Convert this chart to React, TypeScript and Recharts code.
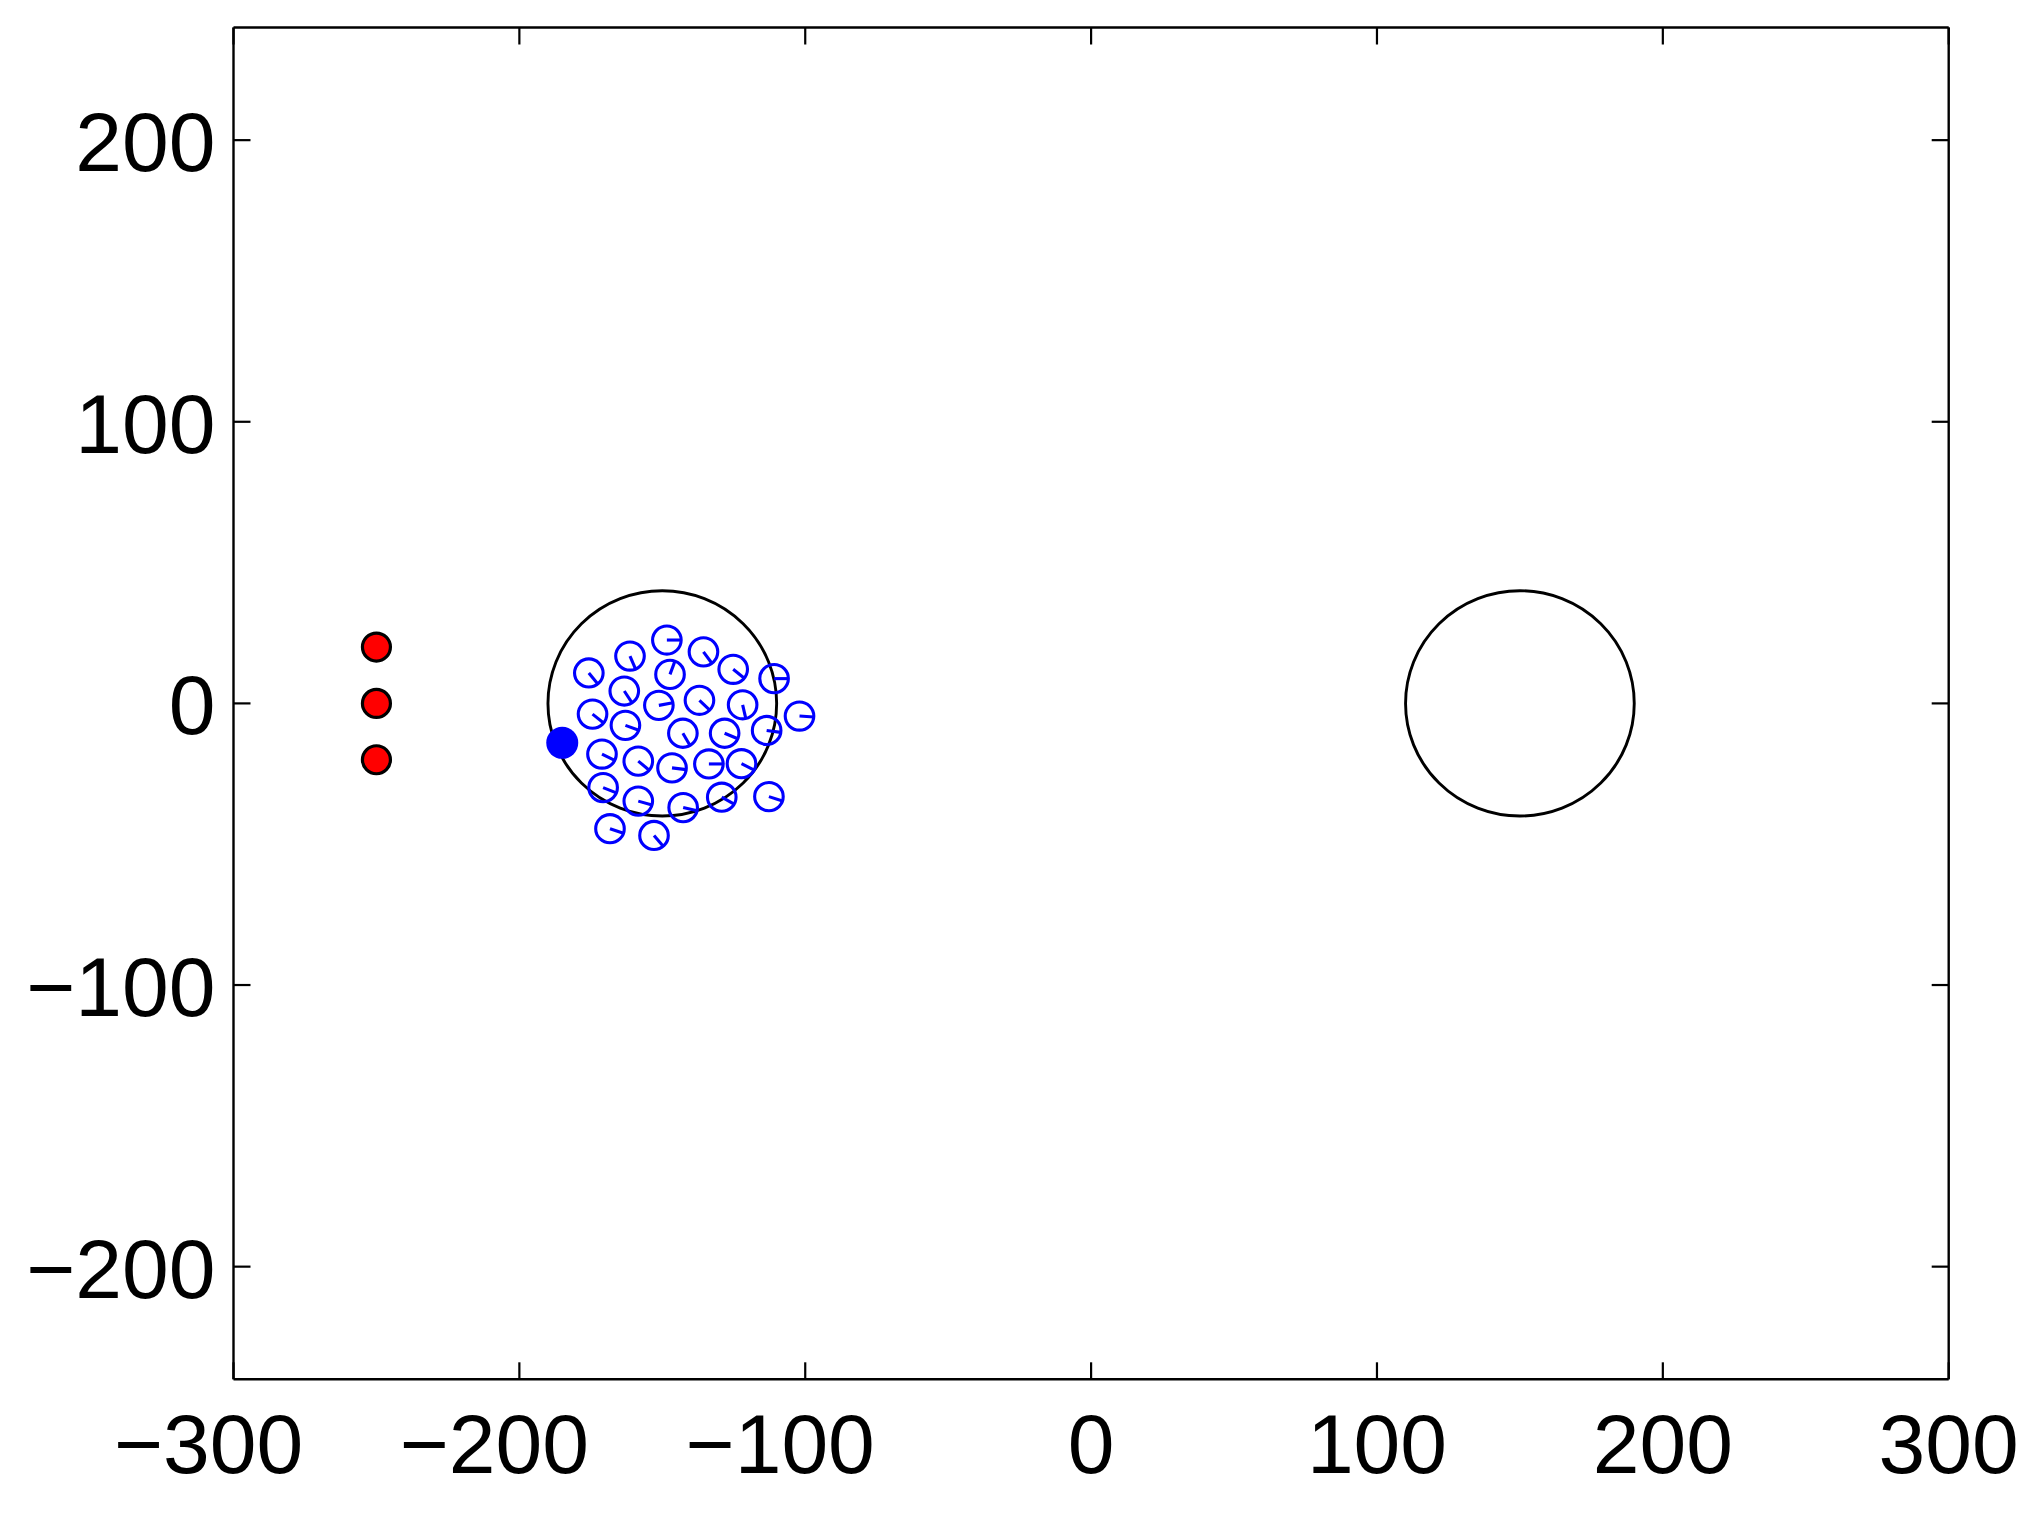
import React from "react";
import { ScatterChart, Scatter, XAxis, YAxis } from "recharts";

// axis ranges and ticks
const xTicks = [-300, -200, -100, 0, 100, 200, 300];
const yTicks = [-200, -100, 0, 100, 200];
const xDomain: [number, number] = [-300, 300];
const yDomain: [number, number] = [-240, 240];

// target regions (centre + radius in data units)
const zoneX = [-150, 150];
const zoneY = [0, 0];
const zoneR = [40, 40];

// red markers
const redX = [-250, -250, -250];
const redY = [20, 0, -20];

// blue agents: position and heading (degrees)
const agentX = [
  -148.4, -161.3, -135.6, -175.7, -147.3, -125.2, -110.9, -163.3, -151.2, -137.0,
  -121.9, -174.4, -162.9, -102.0, -142.8, -128.2, -113.5, -171.1, -158.4, -146.6,
  -133.7, -122.3, -170.7, -158.4, -142.7, -129.2, -112.7, -168.3, -152.9,
];
const agentY = [
  22.5, 16.8, 18.3, 10.8, 10.3, 12.1, 8.8, 4.4, -0.7, 1.1,
  -0.5, -3.8, -7.8, -4.5, -10.6, -10.6, -9.6, -18.0, -20.5, -22.9,
  -21.5, -21.4, -29.9, -34.7, -37.0, -33.3, -33.1, -44.5, -46.9,
];
const agentHeading = [
  0, -67, -54, -51, 70, -39, 0, -57, 11, -44,
  -77, -39, -20, -4, -60, -23, -8, -27, -40, -7,
  0, -27, -22, -16, -13, -30, -18, -19, -50,
];
const agentRadius = 5;

// leader
const leaderX = [-185];
const leaderY = [-14];

const W = 2044;
const H = 1517;
const PLOT_LEFT = 233.5;
const PLOT_RIGHT = 1948.7;
const PLOT_TOP = 27.5;
const PLOT_BOTTOM = 1379.3;
const SX = (PLOT_RIGHT - PLOT_LEFT) / (xDomain[1] - xDomain[0]);
const SY = (PLOT_BOTTOM - PLOT_TOP) / (yDomain[1] - yDomain[0]);

const TICK_LEN = 17;
const FONT = "'Liberation Sans', Arial, Helvetica, sans-serif";
const FONT_SIZE = 84;

const zones = zoneX.map((x, i) => ({ x, y: zoneY[i], r: zoneR[i] }));
const reds = redX.map((x, i) => ({ x, y: redY[i] }));
const agents = agentX.map((x, i) => ({ x, y: agentY[i], h: agentHeading[i] }));
const leader = leaderX.map((x, i) => ({ x, y: leaderY[i] }));

const fmt = (v: number) => (v < 0 ? `\u2212${Math.abs(v)}` : `${v}`);

function BottomTick({ x, y, payload }: any) {
  const v = payload.value;
  return (
    <g>
      <line x1={x} y1={y} x2={x} y2={y - TICK_LEN} stroke="#000" strokeWidth={2.2} />
      <text
        x={v < 0 ? x - 25 : x}
        y={y + 94}
        textAnchor="middle"
        fontFamily={FONT}
        fontSize={FONT_SIZE}
        fill="#000"
      >
        {fmt(v)}
      </text>
    </g>
  );
}

function LeftTick({ x, y, payload }: any) {
  return (
    <g>
      <line x1={x} y1={y} x2={x + TICK_LEN} y2={y} stroke="#000" strokeWidth={2.2} />
      <text
        x={x - 18}
        y={y + 31}
        textAnchor="end"
        fontFamily={FONT}
        fontSize={FONT_SIZE}
        fill="#000"
      >
        {fmt(payload.value)}
      </text>
    </g>
  );
}

function TopTick({ x, y }: any) {
  return <line x1={x} y1={y} x2={x} y2={y + TICK_LEN} stroke="#000" strokeWidth={2.2} />;
}

function RightTick({ x, y }: any) {
  return <line x1={x} y1={y} x2={x - TICK_LEN} y2={y} stroke="#000" strokeWidth={2.2} />;
}

function ZoneShape({ cx, cy, payload }: any) {
  return (
    <ellipse
      cx={cx}
      cy={cy}
      rx={payload.r * SX}
      ry={payload.r * SY}
      fill="none"
      stroke="#000"
      strokeWidth={2.9}
    />
  );
}

function RedShape({ cx, cy }: any) {
  return <circle cx={cx} cy={cy} r={14} fill="#ff0000" stroke="#000" strokeWidth={3.2} />;
}

function AgentShape({ cx, cy, payload }: any) {
  const rx = agentRadius * SX;
  const ry = agentRadius * SY;
  const a = (payload.h * Math.PI) / 180;
  return (
    <g>
      <ellipse cx={cx} cy={cy} rx={rx} ry={ry} fill="none" stroke="#0000ff" strokeWidth={3.1} />
      <line
        x1={cx}
        y1={cy}
        x2={cx + rx * Math.cos(a)}
        y2={cy - ry * Math.sin(a)}
        stroke="#0000ff"
        strokeWidth={3.1}
      />
    </g>
  );
}

function LeaderShape({ cx, cy }: any) {
  return <circle cx={cx} cy={cy} r={16} fill="#0000ff" />;
}

const axisLine = { stroke: "#000", strokeWidth: 2.4 };

export default function App() {
  return (
    <div style={{ position: "absolute", left: 0, top: 0, width: W, height: H, background: "#fff" }}>
      <ScatterChart
        width={W}
        height={H}
        margin={{ top: PLOT_TOP - 20, right: W - PLOT_RIGHT - 40, bottom: H - PLOT_BOTTOM - 100, left: PLOT_LEFT - 200 }}
      >
        <XAxis
          type="number"
          dataKey="x"
          domain={xDomain}
          ticks={xTicks}
          allowDataOverflow
          interval={0}
          height={100}
          tickSize={0}
          tickMargin={0}
          tickLine={false}
          axisLine={axisLine}
          tick={BottomTick}
        />
        <XAxis
          xAxisId="top"
          orientation="top"
          type="number"
          dataKey="x"
          domain={xDomain}
          ticks={xTicks}
          allowDataOverflow
          interval={0}
          height={20}
          tickSize={0}
          tickMargin={0}
          tickLine={false}
          axisLine={axisLine}
          tick={TopTick}
        />
        <YAxis
          type="number"
          dataKey="y"
          domain={yDomain}
          ticks={yTicks}
          allowDataOverflow
          interval={0}
          width={200}
          tickSize={0}
          tickMargin={0}
          tickLine={false}
          axisLine={axisLine}
          tick={LeftTick}
        />
        <YAxis
          yAxisId="right"
          orientation="right"
          type="number"
          dataKey="y"
          domain={yDomain}
          ticks={yTicks}
          allowDataOverflow
          interval={0}
          width={40}
          tickSize={0}
          tickMargin={0}
          tickLine={false}
          axisLine={axisLine}
          tick={RightTick}
        />
        <Scatter data={zones} shape={ZoneShape} isAnimationActive={false} />
        <Scatter data={reds} shape={RedShape} isAnimationActive={false} />
        <Scatter data={agents} shape={AgentShape} isAnimationActive={false} />
        <Scatter data={leader} shape={LeaderShape} isAnimationActive={false} />
      </ScatterChart>
    </div>
  );
}
